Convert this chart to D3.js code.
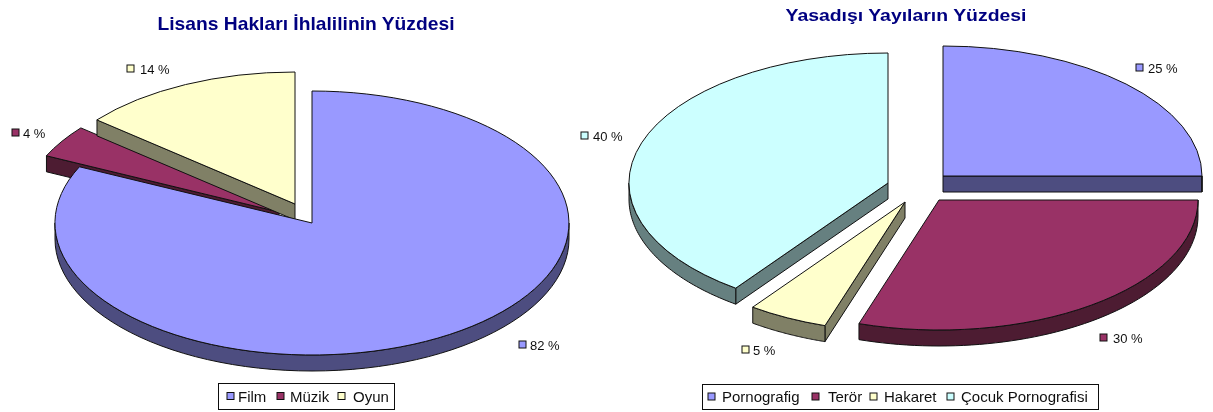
<!DOCTYPE html>
<html><head><meta charset="utf-8">
<script src="https://cdn.jsdelivr.net/npm/d3@7/dist/d3.min.js"></script>
<style>
html,body{margin:0;padding:0;background:#fff}
svg{display:block;font-family:"Liberation Sans",Arial,sans-serif}
</style></head><body>
<svg id="c" width="1213" height="412"></svg>
<script>
const leftTitle = "Lisans Hakları İhlalilinin Yüzdesi";
const leftCategories = ["Film", "Müzik", "Oyun"];
const leftValues = [82, 4, 14];
const leftColors = ["#9999ff", "#993366", "#ffffcc"];
const leftSides = ["#4d4d80", "#4d1a33", "#808066"];

const rightTitle = "Yasadışı Yayıların Yüzdesi";
const rightCategories = ["Pornografig", "Terör", "Hakaret", "Çocuk Pornografisi"];
const rightValues = [25, 30, 5, 40];
const rightColors = ["#9999ff", "#993366", "#ffffcc", "#ccffff"];
const rightSides = ["#4d4d80", "#4d1a33", "#808066", "#668080"];

const svg = d3.select("#c");
const defs = svg.append("defs");
defs.append("filter").attr("id","soft").attr("x",0).attr("y",0).attr("width",1).attr("height",1)
  .append("feGaussianBlur").attr("stdDeviation",0.5);
const root = svg.append("g").attr("filter","url(#soft)");
root.append("rect").attr("width",1213).attr("height",412).attr("fill","#fff");

function drawPie(o){
  const g = root.append("g");
  const arcs = d3.pie().sort(null).value(d=>d)(o.values);
  const unit = d3.arc().innerRadius(0).outerRadius(1);
  o.order.forEach(i=>{
    const a = arcs[i], c = o.centers[i];
    const px = t => c[0] + o.rx*Math.sin(t), py = t => c[1] - o.ry*Math.cos(t);
    const sg = g.append("g");
    // radial cut faces that look towards the viewer
    const faces = [];
    if(Math.sin(a.startAngle) < -1e-6) faces.push(a.startAngle);
    if(Math.sin(a.endAngle) > 1e-6) faces.push(a.endAngle);
    faces.forEach(t=>{
      sg.append("path").attr("d",d3.line()([[c[0],c[1]],[px(t),py(t)],[px(t),py(t)+o.depth],[c[0],c[1]+o.depth]])+"Z")
        .attr("fill",o.sides[i]).attr("stroke","#111").attr("stroke-width",1).attr("stroke-linejoin","round");
    });
    // outer rim on the near half
    const s = Math.max(a.startAngle, Math.PI/2), e = Math.min(a.endAngle, 3*Math.PI/2);
    if(e>s){
      const ts = d3.range(0,61).map(k=>s+(e-s)*k/60);
      const top = ts.map(t=>[px(t),py(t)]);
      const bot = ts.slice().reverse().map(t=>[px(t),py(t)+o.depth]);
      sg.append("path").attr("d",d3.line()(top.concat(bot))+"Z")
        .attr("fill",o.sides[i]).attr("stroke","#111").attr("stroke-width",1);
    }
    // top
    sg.append("path").attr("d",unit(a))
      .attr("transform",`translate(${c[0]},${c[1]}) scale(${o.rx},${o.ry})`)
      .attr("fill",o.colors[i]).attr("stroke","#111").attr("stroke-width",1)
      .attr("vector-effect","non-scaling-stroke").attr("stroke-linejoin","round");
  });
  // title
  root.append("text").attr("x",o.title[1]).attr("y",o.title[2]).attr("text-anchor","middle")
    .attr("font-size",o.title[3]).attr("font-weight","bold").attr("fill","#000080")
    .attr("textLength",o.title[4]).attr("lengthAdjust","spacingAndGlyphs").text(o.title[0]);
  // data labels
  o.labels.forEach((l,i)=>{
    const lg = root.append("g");
    lg.append("rect").attr("x",l[0]).attr("y",l[1]-4).attr("width",7).attr("height",7)
      .attr("fill",o.colors[i]).attr("stroke","#111").attr("stroke-width",1);
    lg.append("text").attr("x",l[0]+l[2]).attr("y",l[1]+5).attr("font-size",13).attr("fill","#111")
      .text(o.values[i]+" %");
  });
  // legend
  const b = o.legend;
  root.append("rect").attr("x",b.x).attr("y",b.y).attr("width",b.w).attr("height",b.h)
    .attr("fill","#fff").attr("stroke","#111").attr("stroke-width",1);
  o.categories.forEach((n,i)=>{
    root.append("rect").attr("x",b.sw[i]).attr("y",b.y+b.h/2-4).attr("width",7).attr("height",7)
      .attr("fill",o.colors[i]).attr("stroke","#111").attr("stroke-width",1);
    root.append("text").attr("x",b.tx[i]).attr("y",b.y+b.h/2+5).attr("font-size",15).attr("fill","#111").text(n);
  });
}

drawPie({
  values:leftValues, categories:leftCategories, colors:leftColors, sides:leftSides,
  rx:257, ry:132, depth:16, order:[1,2,0],
  centers:[[312,223],[279,212],[295,204]],
  title:[leftTitle,306,30,19,297],
  labels:[[519,345,11],[12,133,11],[127,69,13]],
  legend:{x:218.5,y:383.5,w:176,h:26,sw:[227,277,338],tx:[238,290,353]}
});
drawPie({
  values:rightValues, categories:rightCategories, colors:rightColors, sides:rightSides,
  rx:259, ry:130, depth:16, order:[0,3,1,2],
  centers:[[943,176],[939,200],[905,202],[888,183]],
  title:[rightTitle,906,21,17,241],
  labels:[[1136,68,12],[1100,338,13],[742,350,11],[581,136,12]],
  legend:{x:702.5,y:384.5,w:396,h:25,sw:[708,812,870,947],tx:[722,828,884,961]}
});
</script>
</body></html>
